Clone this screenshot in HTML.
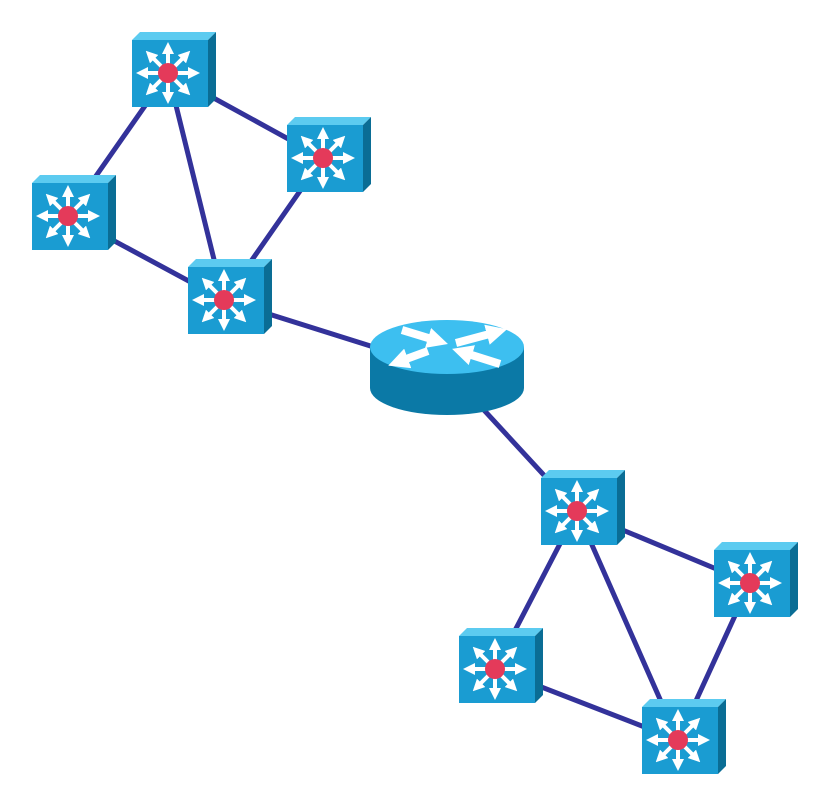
<!DOCTYPE html>
<html><head><style>html,body{margin:0;padding:0;background:#fff}svg{display:block}</style></head>
<body>
<svg width="823" height="799" viewBox="0 0 823 799" xmlns="http://www.w3.org/2000/svg">
<defs>
<marker id="ah" viewBox="0 0 10 10" refX="5" refY="5" markerWidth="3" markerHeight="3" orient="auto"><path d="M0,0 L10,5 L0,10 z" fill="#fff"/></marker>
<marker id="ah2" viewBox="0 0 10 10" refX="5" refY="5" markerWidth="2.6" markerHeight="2.6" orient="auto"><path d="M0,0 L10,5 L0,10 z" fill="#fff"/></marker>
<g id="sw">
  <polygon points="0,0 8,-8 84,-8 76,0" fill="#5ccbf0"/>
  <polygon points="76,0 84,-8 84,59 76,67" fill="#0a6d95"/>
  <rect x="0" y="0" width="76" height="67" fill="#1a9cd2"/>
  <g stroke="#fff" stroke-width="4" marker-end="url(#ah)">
    <line x1="36" y1="33" x2="36" y2="8"/>
    <line x1="36" y1="33" x2="36" y2="58"/>
    <line x1="36" y1="33" x2="10" y2="33"/>
    <line x1="36" y1="33" x2="62" y2="33"/>
    <line x1="36" y1="33" x2="18" y2="15"/>
    <line x1="36" y1="33" x2="54" y2="15"/>
    <line x1="36" y1="33" x2="18" y2="51"/>
    <line x1="36" y1="33" x2="54" y2="51"/>
  </g>
  <circle cx="36" cy="33" r="10" fill="#e43a5a"/>
</g>
</defs>
<g stroke="#33329a" stroke-width="5" stroke-linecap="round">
  <line x1="168" y1="73" x2="68" y2="216"/>
  <line x1="168" y1="73" x2="323" y2="158"/>
  <line x1="168" y1="73" x2="224" y2="300"/>
  <line x1="323" y1="158" x2="224" y2="300"/>
  <line x1="68" y1="216" x2="224" y2="300"/>
  <line x1="224" y1="300" x2="447" y2="370"/>
  <line x1="447" y1="370" x2="577" y2="511"/>
  <line x1="577" y1="511" x2="750" y2="583"/>
  <line x1="577" y1="511" x2="495" y2="669"/>
  <line x1="577" y1="511" x2="678" y2="740"/>
  <line x1="750" y1="583" x2="678" y2="740"/>
  <line x1="495" y1="669" x2="678" y2="740"/>
</g>
<use href="#sw" x="132" y="40"/>
<use href="#sw" x="287" y="125"/>
<use href="#sw" x="32" y="183"/>
<use href="#sw" x="188" y="267"/>
<use href="#sw" x="541" y="478"/>
<use href="#sw" x="714" y="550"/>
<use href="#sw" x="459" y="636"/>
<use href="#sw" x="642" y="707"/>
<g>
  <path d="M370,347 L370,388 A77,27 0 0 0 524,388 L524,347 Z" fill="#0b79a6"/>
  <ellipse cx="447" cy="347" rx="77" ry="27" fill="#3dbff0"/>
  <g stroke="#fff" stroke-width="8" marker-end="url(#ah2)">
    <line x1="402" y1="330" x2="438" y2="341"/>
    <line x1="428" y1="351" x2="398" y2="362"/>
    <line x1="456" y1="343" x2="497" y2="332"/>
    <line x1="500" y1="364" x2="462" y2="352"/>
  </g>
</g>
</svg>
</body></html>
